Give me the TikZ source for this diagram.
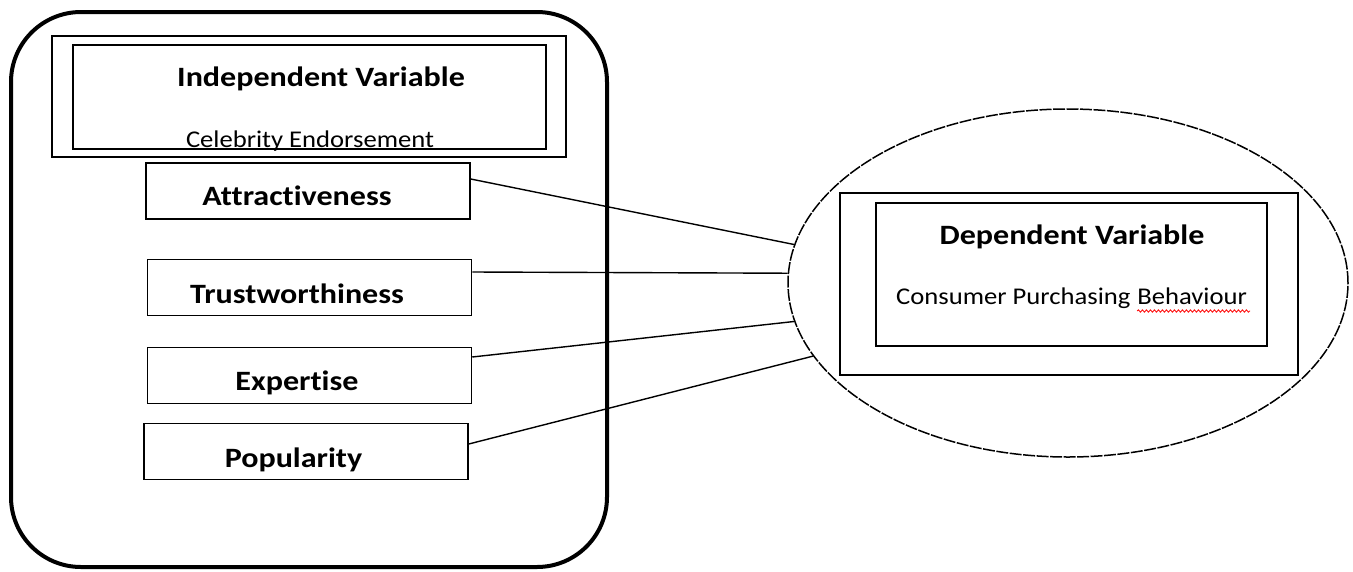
\documentclass[tikz,border=0pt]{standalone}
\usepackage{fontspec}
\setmainfont{Carlito}[FakeStretch=1.11, RawFeature=-liga]
\newfontfamily\headfont{Carlito}[FakeStretch=1.145, RawFeature=-liga]
\usetikzlibrary{shapes.geometric,decorations.pathmorphing}

\begin{document}
\begin{tikzpicture}[x=1pt,y=-1pt,
    box/.style={draw, line width=1.5pt, inner sep=0pt},
    factor/.style={box, minimum width=324pt, minimum height=56pt},
    boldtxt/.style={inner sep=0pt, anchor=base, font=\headfont\fontsize{28}{32}\selectfont\bfseries},
    plaintxt/.style={inner sep=0pt, anchor=base, font=\fontsize{24}{28}\selectfont},
    link/.style={line width=1.4pt}]

  % Fix the page to the size of the reference
  \useasboundingbox (0,0) rectangle (1353,571);

  % Outer rounded frame
  \draw[line width=4pt, rounded corners=70pt] (11,12) rectangle (607,567);

  % Independent variable: double frame with its two texts
  \node[box, minimum width=514pt, minimum height=121pt] (ivouter) at (309,96.5) {};
  \node[box, minimum width=473pt, minimum height=104pt] (ivinner) at (309.5,97) {};
  \node[boldtxt] (ivtitle) at (321,86) {Independent Variable};
  \node[plaintxt] (ivname) at (310,147) {Celebrity Endorsement};

  % The four factors
  \node[factor] (attr) at (308,191) {};
  \node[factor] (trust) at (309.5,287.5) {};
  \node[factor] (expert) at (309.5,375.5) {};
  \node[factor] (popul) at (306,451.5) {};
  \node[boldtxt] (attrtxt) at (297,205) {Attractiveness};
  \node[boldtxt] (trusttxt) at (297,303) {Trustworthiness};
  \node[boldtxt] (experttxt) at (297,390) {Expertise};
  \node[boldtxt] (popultxt) at (293.5,467) {Popularity};

  % Dependent variable inside the ellipse
  \node[ellipse, draw, line width=1.5pt, dash pattern=on 12pt off 1.5pt,
        minimum width=560pt, minimum height=348pt, inner sep=0pt] (dv) at (1068,283) {};
  \node[box, minimum width=458pt, minimum height=182pt] (dvouter) at (1069,284) {};
  \node[box, minimum width=391pt, minimum height=143pt] (dvinner) at (1071.5,274.5) {};
  \node[boldtxt] (dvtitle) at (1072,244) {Dependent Variable};
  \node[plaintxt, anchor=base west] (dvname) at (896,304) {Consumer Purchasing};
  \node[plaintxt, anchor=base west] (dvword) at ([xshift=6.5pt]dvname.base east) {Behaviour};

  % Red wavy underline of the last word
  \draw[red, line width=0.8pt, decorate, decoration={snake, amplitude=1.2pt, segment length=4pt}]
    ([yshift=-7pt]dvword.base west) -- ([yshift=-7pt,xshift=3pt]dvword.base east);

  % Connectors from the factors to the ellipse
  \draw[link] ([yshift=12pt]attr.east) -- (dv.172);
  \draw[link] ([yshift=15.5pt]trust.east) -- (dv.178.8);
  \draw[link] ([yshift=18.5pt]expert.east) -- (dv.188);
  \draw[link] ([yshift=7.5pt]popul.east) -- (dv.196.3);

\end{tikzpicture}
\end{document}
